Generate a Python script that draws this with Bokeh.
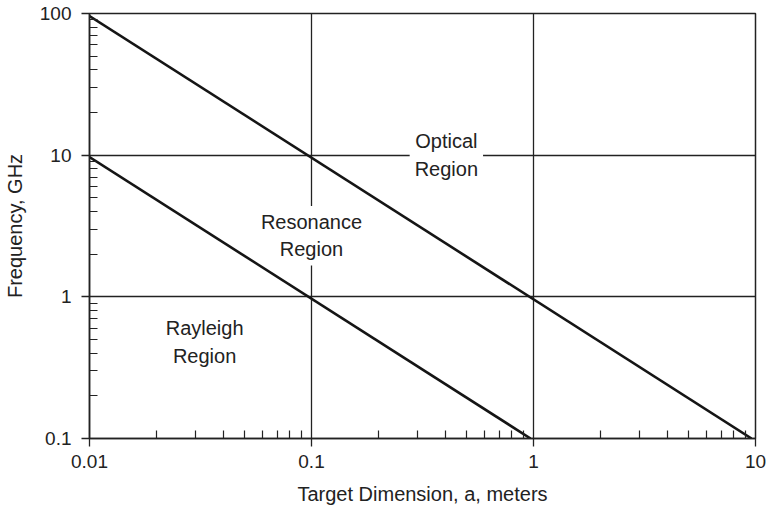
from bokeh.plotting import figure
from bokeh.models import Range1d, FixedTicker, Label
from bokeh.embed import file_html
from bokeh.resources import INLINE

# Boundary lines between scattering regions (target size a in meters, frequency in GHz)
upper_a = [0.01, 9.6]
upper_f = [96.0, 0.1]
lower_a = [0.01, 0.97]
lower_f = [9.7, 0.1]

x_ticks = [0.01, 0.1, 1, 10]
x_tick_labels = ["0.01", "0.1", "1", "10"]
y_ticks = [0.1, 1, 10, 100]
y_tick_labels = ["0.1", "1", "10", "100"]

# Region labels: (text, a, f)
region_labels = [
    ("Optical\nRegion", 0.405, 10.0),
    ("Resonance\nRegion", 0.1, 2.7),
    ("Rayleigh\nRegion", 0.033, 0.48),
]

FONT = "Liberation Sans"
INK = "#222222"


def minor_positions(ticks):
    return [m * d for d in ticks[:-1] for m in range(2, 10)]


p = figure(
    width=772, height=511,
    x_axis_type="log", y_axis_type="log",
    x_range=Range1d(x_ticks[0], x_ticks[-1]),
    y_range=Range1d(y_ticks[0], y_ticks[-1]),
    output_backend="svg", toolbar_location=None,
    min_border_left=89, min_border_right=17,
    min_border_top=13, min_border_bottom=73,
)
p.background_fill_color = "white"
p.border_fill_color = "white"
p.outline_line_color = INK
p.outline_line_width = 1.5

p.xaxis.ticker = FixedTicker(ticks=x_ticks, minor_ticks=minor_positions(x_ticks))
p.yaxis.ticker = FixedTicker(ticks=y_ticks, minor_ticks=minor_positions(y_ticks))
p.xaxis.major_label_overrides = dict(zip(x_ticks, x_tick_labels))
p.yaxis.major_label_overrides = dict(zip(y_ticks, y_tick_labels))

for ax in (p.xaxis, p.yaxis):
    ax.axis_line_color = INK
    ax.axis_line_width = 1.5
    ax.major_tick_line_color = INK
    ax.major_tick_line_width = 1.3
    ax.minor_tick_line_color = INK
    ax.minor_tick_line_width = 1.2
    ax.major_tick_out = 8
    ax.major_tick_in = 0
    ax.minor_tick_in = 8
    ax.minor_tick_out = 0
    ax.major_label_text_font = FONT
    ax.major_label_text_font_size = "19px"
    ax.major_label_text_color = INK
    ax.axis_label_text_font = FONT
    ax.axis_label_text_font_size = "20px"
    ax.axis_label_text_font_style = "normal"
    ax.axis_label_text_color = INK

p.xaxis.axis_label = "Target Dimension, a, meters"
p.yaxis.axis_label = "Frequency, GHz"
p.xaxis.major_label_standoff = 8
p.yaxis.major_label_standoff = 10
p.xaxis.axis_label_standoff = 12
p.yaxis.axis_label_standoff = 11

for g in (p.xgrid, p.ygrid):
    g.grid_line_color = INK
    g.grid_line_width = 1.3
    g.grid_line_alpha = 1.0

p.line(upper_a, upper_f, line_width=2.6, line_color="#151515")
p.line(lower_a, lower_f, line_width=2.6, line_color="#151515")

# Labels sit above the grid but beneath the boundary lines
for text, a, f in region_labels:
    p.add_layout(Label(
        x=a, y=f, text=text,
        text_align="center", text_baseline="middle",
        text_font=FONT, text_font_size="20px", text_color=INK,
        text_line_height=1.25,
        background_fill_color="white", background_fill_alpha=1.0,
        padding=5, level="underlay",
    ))

open("out.html", "w").write(file_html(p, INLINE))
